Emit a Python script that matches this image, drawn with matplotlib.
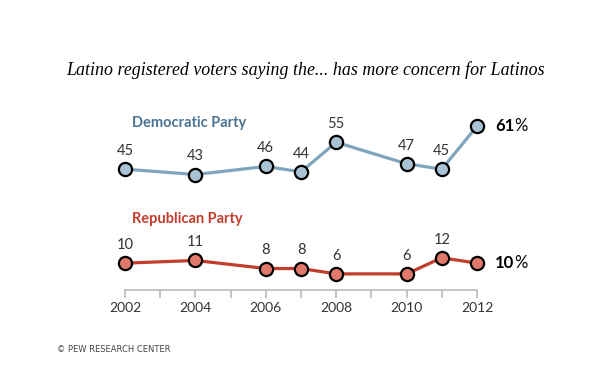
import matplotlib.pyplot as plt

#---datos-------------------------------------------------------------
years = [2002, 2004, 2006, 2007, 2008, 2010, 2011, 2012]
dem = [45, 43, 46, 44, 55, 47, 45, 61]
rep = [10, 11, 8, 8, 6, 6, 12, 10]
tick_years = list(range(2002, 2013))
label_years = [2002, 2004, 2006, 2008, 2010, 2012]

title = 'Latino registered voters saying the... has more concern for Latinos'

dem_line = '#7fa5be'
dem_fill = '#a9c3d4'
dem_text = '#4b7394'
rep_line = '#c33d2c'
rep_fill = '#e0786b'
rep_text = '#c33d2c'
num_color = '#333333'

#---figura------------------------------------------------------------
fig = plt.figure(figsize=(6.12, 3.75), dpi=100)
ax = fig.add_axes([125/612, 85/375, 352/612, 188/375])

ax.plot(years, dem, color=dem_line, lw=2.3, marker='o', ms=9.5,
        mfc=dem_fill, mec='black', mew=1.6, zorder=3, clip_on=False)
ax.plot(years, rep, color=rep_line, lw=2.3, marker='o', ms=9.5,
        mfc=rep_fill, mec='black', mew=1.6, zorder=3, clip_on=False)

# etiquetas de valores (menos el ultimo)
for serie in (dem, rep):
    for x, v in zip(years[:-1], serie[:-1]):
        ax.annotate(str(v), (x, v), xytext=(0, 13), textcoords='offset points',
                    ha='center', va='center', fontsize=10.5, color=num_color,
                    family='Lato')

# ultimo valor: numero en negrita + %
for v in (dem[-1], rep[-1]):
    t = ax.annotate(str(v), (years[-1], v), xytext=(13, 0), textcoords='offset points',
                    ha='left', va='center', fontsize=12, fontweight='bold',
                    color='black', family='Lato')
    ax.annotate('%', xycoords=t, xy=(1, 0.5), xytext=(0.3, 0), textcoords='offset points',
                ha='left', va='center', fontsize=12, color='black', family='Lato')

ax.text(2002.2, 62, 'Democratic Party', fontsize=10.5, fontweight='bold',
        color=dem_text, family='Lato', va='center')
ax.text(2002.2, 26.5, 'Republican Party', fontsize=10.5, fontweight='bold',
        color=rep_text, family='Lato', va='center')

#---ejes--------------------------------------------------------------
ax.set_xlim(2002, 2012)
ax.set_ylim(0, 70)
for s in ['top', 'right', 'left']:
    ax.spines[s].set_visible(False)
ax.spines['bottom'].set_color('#bbbbbb')
ax.spines['bottom'].set_linewidth(1.2)
ax.set_yticks([])
ax.set_xticks(tick_years)
ax.set_xticklabels([str(y) if y in label_years else '' for y in tick_years])
ax.tick_params(axis='x', length=6, width=1.2, color='#bbbbbb', pad=3,
               labelsize=10, labelcolor=num_color)
for lab in ax.get_xticklabels():
    lab.set_family('Lato')

fig.text(0.5, 1 - 70/375, title, ha='center', va='center', fontsize=12.9,
         style='italic', family='Liberation Serif')
fig.text(57/612, 1 - 349/375, '© PEW RESEARCH CENTER', ha='left', va='center',
         fontsize=6, color='#444444', family='DejaVu Sans')

plt.savefig('out.png', dpi=100)
